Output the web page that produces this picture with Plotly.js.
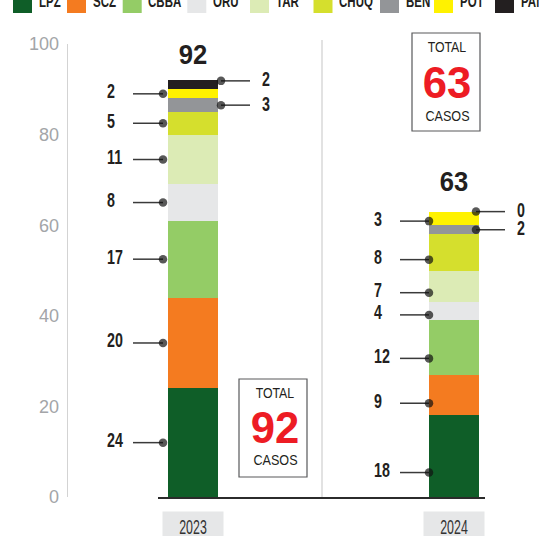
<!DOCTYPE html>
<html><head><meta charset="utf-8">
<script src="https://cdn.plot.ly/plotly-3.0.1.min.js"></script>
<style>html,body{margin:0;padding:0;background:#fff}#chart{width:539px;height:536px}</style>
</head><body><div id="chart"></div>
<script>
// ---- data ----
const years = ['2023', '2024'];
const departments = ['LPZ', 'SCZ', 'CBBA', 'ORU', 'TAR', 'CHUQ', 'BEN', 'POT', 'PAN'];
const cases2023 = [24, 20, 17, 8, 11, 5, 3, 2, 2];
const cases2024 = [18, 9, 12, 4, 7, 8, 2, 3, 0];
const yTicks = [0, 20, 40, 60, 80, 100];
const rightSideDepts = ['BEN', 'PAN'];

// ---- styles ----
const colors = ['#0f5e28', '#f47b20', '#94cc66', '#e6e7e8', '#dcebb5', '#d5df2d', '#939598', '#fff200', '#231f20'];
const SANS = 'Liberation Sans, Arial, sans-serif';
const INK = '#231f20';

// ---- geometry ----
const W = 539, H = 536, L = 68, R = 20, T = 44, B = 39;
const plotW = W - L - R, plotH = H - T - B;
const xRange = [-0.479, 1.249];
const xSpan = xRange[1] - xRange[0];
const xOf = px => xRange[0] + (px - L) / plotW * xSpan;
const pX = px => (px - L) / plotW;
const pY = py => (H - B - py) / plotH;
const barW = 50 / plotW * xSpan;

const seriesByYear = [cases2023, cases2024];
const totals = seriesByYear.map(s => s.reduce((a, b) => a + b, 0));

// label layout per year (pixels)
const labelCfg = [
  {leftText: 105, lineStart: 133, dotLeft: 163, dotRight: 221, lineEnd: 250, rightText: 260, frac: 0.5},
  {leftText: 372, lineStart: 400, dotLeft: 429, dotRight: 476, lineEnd: 505, rightText: 515, frac: 0.3}
];
const rightFrac = {BEN: 0.5, PAN: 0.93};

const annotations = [];
const annScale = [];   // horizontal condensing per annotation (to mimic a condensed typeface)
function addAnn(a, s) { annotations.push(a); annScale.push(s || 1); }

// ---- bar traces ----
const traces = departments.map((d, i) => ({
  type: 'bar', name: d,
  x: years.map((_, k) => k),
  y: seriesByYear.map(s => s[i]),
  width: barW,
  marker: {color: colors[i], line: {width: 0}},
  hoverinfo: 'skip', showlegend: false
}));

// ---- leader lines & labels ----
const labelFont = {family: SANS, size: 21, color: INK, weight: 700};
const lx = [], ly = [], ls = [];
seriesByYear.forEach((series, k) => {
  const c = labelCfg[k];
  let base = 0;
  series.forEach((v, i) => {
    const d = departments[i];
    const right = rightSideDepts.includes(d);
    const yv = base + v * (right ? rightFrac[d] : c.frac);
    if (right) {
      lx.push(xOf(c.dotRight), xOf(c.lineEnd), null);
      ly.push(yv, yv, null);
      ls.push(8.5, 0, 0);
      addAnn({x: xOf(c.rightText), y: yv, xref: 'x', yref: 'y', xanchor: 'left', yanchor: 'middle',
        yshift: 2, text: String(v), showarrow: false, font: labelFont}, 0.68);
    } else {
      lx.push(xOf(c.lineStart), xOf(c.dotLeft), null);
      ly.push(yv, yv, null);
      ls.push(0, 8.5, 0);
      addAnn({x: xOf(c.leftText), y: yv, xref: 'x', yref: 'y', xanchor: 'left', yanchor: 'middle',
        yshift: 3, text: String(v), showarrow: false, font: labelFont}, 0.68);
    }
    base += v;
  });
});
traces.push({type: 'scatter', mode: 'lines+markers', x: lx, y: ly, connectgaps: false,
  line: {color: '#3a3a3a', width: 1.5}, marker: {size: ls, color: '#111', line: {width: 0}},
  hoverinfo: 'skip', showlegend: false, cliponaxis: false});

// totals above bars
const totalShift = [25, 30];
totals.forEach((t, k) => {
  addAnn({x: k, y: t, xref: 'x', yref: 'y', yanchor: 'middle', yshift: totalShift[k], text: '<b>' + t + '</b>',
    showarrow: false, font: {family: SANS, size: 27, color: INK}}, 0.95);
});

// total boxes (pixel layout)
const boxes = [
  {x0: 239, x1: 307, y0: 379, y1: 477, cx: 275, tY: 393, nY: 427, cY: 460},
  {x0: 412, x1: 480, y0: 33, y1: 131, cx: 447, tY: 47, nY: 82, cY: 116}
];
const shapes = [];
boxes.forEach((b, k) => {
  shapes.push({type: 'rect', xref: 'paper', yref: 'paper', x0: pX(b.x0), x1: pX(b.x1), y0: pY(b.y1), y1: pY(b.y0),
    line: {color: '#58595b', width: 1.2}, fillcolor: 'rgba(255,255,255,0)'});
  addAnn({xref: 'paper', yref: 'paper', x: pX(b.cx), y: pY(b.tY), text: 'TOTAL', showarrow: false,
    xanchor: 'center', yanchor: 'middle', font: {family: SANS, size: 14, color: INK, weight: 500}}, 0.88);
  addAnn({xref: 'paper', yref: 'paper', x: pX(b.cx), y: pY(b.nY), text: '<b>' + totals[k] + '</b>', showarrow: false,
    xanchor: 'center', yanchor: 'middle', font: {family: SANS, size: 45, color: '#ed1c24'}}, 0.97);
  addAnn({xref: 'paper', yref: 'paper', x: pX(b.cx), y: pY(b.cY), text: 'CASOS', showarrow: false,
    xanchor: 'center', yanchor: 'middle', font: {family: SANS, size: 14, color: INK, weight: 500}}, 0.9);
});

// divider and baseline
shapes.push({type: 'line', xref: 'paper', yref: 'paper', x0: pX(322), x1: pX(322), y0: pY(40), y1: pY(498),
  line: {color: '#d9d9d9', width: 1.5}});
shapes.push({type: 'line', xref: 'paper', yref: 'paper', x0: pX(158), x1: pX(485), y0: pY(498), y1: pY(498),
  line: {color: '#2b2b2b', width: 2.2}});

// year labels
years.forEach((yr, k) => {
  addAnn({x: k, xref: 'x', yref: 'paper', y: pY(527), yanchor: 'middle', text: yr, showarrow: false,
    bgcolor: '#e6e7e8', width: 58, height: 28, font: {family: SANS, size: 20, color: '#333'}}, 0.62);
});

// custom legend (pixel layout)
const legendX = [13, 67, 122.7, 187.3, 250, 313.5, 380, 434, 495];
departments.forEach((d, i) => {
  shapes.push({type: 'rect', xref: 'paper', yref: 'paper', x0: pX(legendX[i]), x1: pX(legendX[i] + 19),
    y0: pY(13), y1: pY(-8), line: {width: 0}, fillcolor: colors[i]});
  addAnn({xref: 'paper', yref: 'paper', x: pX(legendX[i] + 23.5), y: pY(2), xanchor: 'left', yanchor: 'middle',
    text: d, showarrow: false, font: {family: SANS, size: 16, color: INK, weight: 700}}, 0.72);
});

const layout = {
  width: W, height: H,
  margin: {l: L, r: R, t: T, b: B, autoexpand: false},
  paper_bgcolor: '#fff', plot_bgcolor: '#fff',
  barmode: 'stack', showlegend: false,
  xaxis: {range: xRange, showgrid: false, zeroline: false, showticklabels: false, showline: false, fixedrange: true},
  yaxis: {range: [0, 100], tickvals: yTicks, ticktext: yTicks.map(String), showgrid: false, zeroline: false,
    showline: true, linecolor: '#d3d3d3', linewidth: 1.3, ticks: '', ticklabelstandoff: 4,
    tickfont: {family: SANS, size: 18, color: '#a3a5a8', weight: 300}, fixedrange: true},
  shapes: shapes,
  annotations: annotations
};

function condense(gd) {
  gd.querySelectorAll('g.annotation').forEach(g => {
    const idx = +g.getAttribute('data-index');
    const s = annScale[idx];
    if (!s || s === 1) return;
    const a = annotations[idx];
    const t = g.querySelector('text.annotation-text');
    if (!t) return;
    const origin = (a.xanchor === 'left') ? 'left' : 'center';
    t.style.transformBox = 'fill-box';
    t.style.transformOrigin = origin + ' center';
    t.style.transform = 'scaleX(' + s + ')';
  });
}
Plotly.newPlot('chart', traces, layout, {displayModeBar: false, staticPlot: true}).then(condense);
</script>
</body></html>
